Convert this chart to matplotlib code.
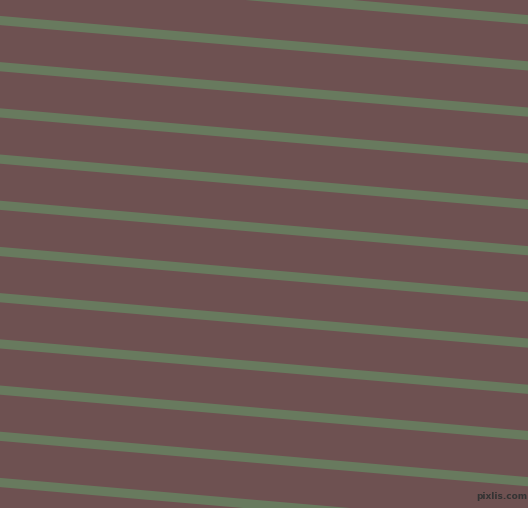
import matplotlib
matplotlib.use("Agg")
import matplotlib.pyplot as plt

# Stripe centre positions (y at the left and right edges)
x_edges = [0, 528]
y_left = [-25.7, 20.5, 66.7, 112.9, 159.1, 205.3, 251.5, 297.7, 343.9, 390.1, 436.3, 482.5]
y_right = [19.7, 65.9, 112.1, 158.3, 204.5, 250.7, 296.9, 343.1, 389.3, 435.5, 481.7, 527.9]

bg_color = "#6e5151"
stripe_color = "#687a5e"
watermark = "pixlis.com"
half_thickness = 4.6  # vertical half-thickness of a stripe, in pixels

fig = plt.figure(figsize=(5.28, 5.08), dpi=100)
fig.patch.set_facecolor(bg_color)
ax = fig.add_axes([0, 0, 1, 1])
ax.set_facecolor(bg_color)
ax.set_xlim(0, 528)
ax.set_ylim(508, 0)
ax.axis("off")

for yl, yr in zip(y_left, y_right):
    ax.fill_between(x_edges,
                    [yl - half_thickness, yr - half_thickness],
                    [yl + half_thickness, yr + half_thickness],
                    color=stripe_color, linewidth=0)

ax.text(502, 496.5, watermark, color="#333333", fontsize=6.5, fontweight="bold",
        ha="center", va="center", family="DejaVu Sans")

fig.savefig("out.png", dpi=100, facecolor=bg_color)
